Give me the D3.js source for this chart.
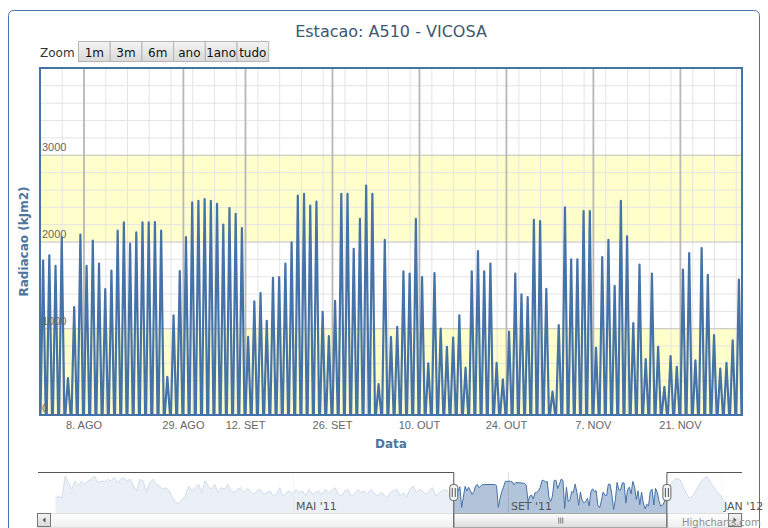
<!DOCTYPE html>
<html>
<head>
<meta charset="utf-8">
<script src="https://cdn.jsdelivr.net/npm/d3@7"></script>
<style>
  body { margin: 0; background: #fff; }
  svg { display: block; font-family: "DejaVu Sans", Verdana, sans-serif; }
</style>
</head>
<body>
<div id="chart"></div>
<script>
// days with data (ordinal axis: missing days are skipped)
const periods = [["2011-08-01", "2011-08-18"], ["2011-08-24", "2011-09-05"], ["2011-09-10", "2011-11-30"]];

// daily peak radiation (kJ/m2), one per day of `periods`
const peaks = [
  1780, 1840, 1720, 2050, 425, 1245, 2080, 1720, 2010, 1745,
  1450, 1665, 2125, 2220, 1975, 2105, 2220, 2220, 2225, 2125,
  440, 1150, 1660, 2050, 2450, 2470, 2490, 2470, 2435, 2195,
  2385, 2320, 2155, 900, 1310, 1405, 1085, 1580, 1590, 1745,
  1990, 2530, 2550, 2415, 2460, 1190, 910, 1315, 2550, 2550,
  1915, 2260, 2645, 2550, 355, 2020, 900, 1015, 1655, 1630,
  2260, 1590, 595, 1635, 995, 785, 893, 1150, 545, 1655,
  1890, 1655, 1745, 600, 410, 960, 1630, 1390, 1360, 2250,
  2235, 1455, 270, 1035, 2395, 1795, 1795, 2350, 2350, 775,
  1820, 2020, 1490, 2470, 2060, 1060, 1735, 645, 1630, 785,
  325, 680, 555, 1675, 1865, 630, 1925, 1615, 920, 535,
  600, 860, 1560
];

const tickDates = ["2011-08-08", "2011-08-29", "2011-09-12", "2011-09-26", "2011-10-10", "2011-10-24", "2011-11-07", "2011-11-21"];
const monthAbbr = ["JAN", "FEV", "MAR", "ABR", "MAI", "JUN", "JUL", "AGO", "SET", "OUT", "NOV", "DEZ"];
const yTicks = [0, 1000, 2000, 3000];
const bands = [[0, 1000], [2000, 3000]];
const rangeButtons = ["1m", "3m", "6m", "ano", "1ano", "tudo"];

// navigator series outside the selected period
const navBeforeRange = ["2010-12-16", "2011-07-31"];
const navBefore = [
  1200, 1280, 1200, 2890, 2370, 1850, 2500, 2110, 2500, 2240,
  2500, 2630, 2890, 2370, 2500, 2420, 2630, 2500, 2760, 2370,
  2630, 2760, 2500, 2630, 2110, 1720, 2630, 2500, 1590, 2370,
  2630, 2240, 2110, 1850, 1980, 1720, 1200, 810, 750, 1070,
  1330, 2110, 1720, 1980, 2240, 1590, 2500, 2110, 1850, 2240,
  1590, 1980, 1850, 2240, 1720, 1590, 1850, 1980, 1590, 1900,
  1720, 1460, 1720, 1850, 1460, 1590, 1720, 1330, 1460, 1980,
  1330, 1590, 1720, 1460, 1850, 1590, 1720, 1330, 1850, 1460,
  1590, 1720, 1460, 1850, 1590, 1720, 1980, 1460, 1330, 1720,
  1850, 1330, 1460, 1850, 1590, 1720, 1460, 1850, 1590, 1330,
  1590, 1460, 1200, 1590, 1720, 1850, 1330, 1590, 1200, 1850,
  2110, 1590, 1850, 1720, 1460, 1720, 1980, 1330, 1590, 1720,
  1850, 1590, 1720
];
const navAfterRange = ["2011-12-01", "2012-01-03"];
const navAfter = [1800, 2320, 2710, 2580, 1800, 1150, 1400, 2060, 2580, 2840, 2320, 1800, 1400, 880];
const navTicks = ["2011-05-01", "2011-09-01", "2012-01-01"];
const navDomain = ["2010-12-06", "2012-01-13"];

const W = 768, H = 528;
const plot = { left: 40, right: 742, top: 68, bottom: 415 };
const nav = { left: 38, right: 742, top: 472, bottom: 513 };
const blue = "#4572A7";

const parse = d3.utcParse("%Y-%m-%d");
const days = periods.flatMap(([a, b]) => d3.utcDay.range(parse(a), d3.utcDay.offset(parse(b), 1)));
const series = days.map((d, i) => ({ date: d, i, v: peaks[i] }));

const svg = d3.select("#chart").append("svg").attr("width", W).attr("height", H);
const defs = svg.append("defs");

function grad(id, stops) {
  const g = defs.append("linearGradient").attr("id", id).attr("x1", 0).attr("y1", 0).attr("x2", 0).attr("y2", 1);
  stops.forEach(([o, c]) => g.append("stop").attr("offset", o).attr("stop-color", c));
}
grad("btn", [[0, "#f4f4f4"], [1, "#d9d9d9"]]);
grad("track", [[0, "#ffffff"], [1, "#eeeeee"]]);
grad("thumb", [[0, "#ffffff"], [1, "#dcdcdc"]]);

// outer chart border
svg.append("rect").attr("x", 8.5).attr("y", 10.5).attr("width", 751).attr("height", 600)
  .attr("rx", 5).attr("fill", "#fff").attr("stroke", blue).attr("stroke-width", 1);

// title
svg.append("text").attr("x", 391).attr("y", 37).attr("text-anchor", "middle")
  .attr("font-size", 16).attr("fill", "#3E576F").text("Estacao: A510 - VICOSA");

// range selector
const rs = svg.append("g");
rs.append("text").attr("x", 40).attr("y", 57).attr("font-size", 12).attr("fill", "#333").text("Zoom");
const btn = rs.selectAll("g.btn").data(rangeButtons).join("g").attr("class", "btn")
  .attr("transform", (d, i) => `translate(${78.5 + i * 31.7},41.5)`);
btn.append("rect").attr("width", 31.7).attr("height", 20).attr("fill", "url(#btn)").attr("stroke", "#b5b5b5");
btn.append("text").attr("x", 15.8).attr("y", 15).attr("text-anchor", "middle").attr("font-size", 12)
  .attr("fill", "#111").text(d => d);

// scales
const x = d3.scaleLinear().domain([0, days.length]).range([plot.left, plot.right]);
const y = d3.scaleLinear().domain([0, 4000]).range([plot.bottom, plot.top]);
const pw = plot.right - plot.left, ph = plot.bottom - plot.top;

const g = svg.append("g");

// plot bands
g.selectAll("rect.band").data(bands).join("rect").attr("class", "band")
  .attr("x", plot.left).attr("width", pw)
  .attr("y", d => y(d[1])).attr("height", d => y(d[0]) - y(d[1]))
  .attr("fill", "#FFFFCC");

// minor grid
const minorY = d3.range(0, 4001, 200).filter(v => v % 1000 !== 0);
g.append("g").attr("transform", `translate(${plot.left},0)`)
  .call(d3.axisLeft(y).tickValues(minorY).tickSize(-pw).tickFormat(""))
  .call(a => a.select(".domain").remove())
  .call(a => a.selectAll("line").attr("stroke", "#e4e4e4"));
const minorX = d3.range(3.5, days.length, 3.5);
g.append("g").attr("transform", `translate(0,${plot.bottom})`)
  .call(d3.axisBottom(x).tickValues(minorX).tickSize(-ph).tickFormat(""))
  .call(a => a.select(".domain").remove())
  .call(a => a.selectAll("line").attr("stroke", "#e4e4e4"));

// major grid
g.append("g").attr("transform", `translate(${plot.left},0)`)
  .call(d3.axisLeft(y).tickValues(yTicks.concat([4000])).tickSize(-pw).tickFormat(""))
  .call(a => a.select(".domain").remove())
  .call(a => a.selectAll("line").attr("stroke", "#c0c0c0"));

const tickIdx = tickDates.map(t => days.findIndex(d => +d === +parse(t)));
const fmtDay = d => `${d.getUTCDate()}. ${monthAbbr[d.getUTCMonth()]}`;
const xAxis = g.append("g").attr("transform", `translate(0,${plot.bottom})`)
  .call(d3.axisBottom(x).tickValues(tickIdx).tickSize(-ph).tickPadding(6).tickFormat(i => fmtDay(days[i])))
  .call(a => a.select(".domain").remove())
  .call(a => a.selectAll("line").attr("stroke", "#b8b8b8").attr("stroke-width", 1.8));
xAxis.selectAll("text").attr("font-size", 11).attr("fill", "#666").attr("font-family", null);

// series: each day drawn as one spike rising from zero to its peak
const pts = series.flatMap(d => [[d.i + 0.08, 0], [d.i + 0.5, d.v], [d.i + 0.92, 0]]);
g.append("path").datum(pts)
  .attr("d", d3.line().x(p => x(p[0])).y(p => y(p[1])))
  .attr("fill", "none").attr("stroke", blue).attr("stroke-width", 2.2)
  .attr("stroke-linejoin", "round");

// y labels inside plot
const yAxis = g.append("g").attr("transform", `translate(${plot.left},0)`)
  .call(d3.axisRight(y).tickValues(yTicks).tickSize(0).tickPadding(2).tickFormat(d3.format("d")))
  .call(a => a.select(".domain").remove());
yAxis.selectAll("text").attr("dy", "-0.35em").attr("font-size", 11).attr("fill", "#666").attr("font-family", null);

// plot border
g.append("rect").attr("x", plot.left).attr("y", plot.top).attr("width", pw).attr("height", ph)
  .attr("fill", "none").attr("stroke", blue).attr("stroke-width", 2);

// axis titles
svg.append("text").attr("transform", `translate(28,${(plot.top + plot.bottom) / 2}) rotate(-90)`)
  .attr("text-anchor", "middle").attr("font-size", 12).attr("font-weight", "bold")
  .attr("fill", "#4d759e").text("Radiacao (kJm2)");
svg.append("text").attr("x", (plot.left + plot.right) / 2).attr("y", 448).attr("text-anchor", "middle")
  .attr("font-size", 12).attr("font-weight", "bold").attr("fill", "#4d759e").text("Data");

// navigator
const navX = d3.scaleUtc().domain(navDomain.map(parse)).range([nav.left, nav.right]);
const navY = d3.scaleLinear().domain([0, 3200]).range([nav.bottom, nav.top]);
const spread = (vals, range) => {
  const t = d3.scaleLinear().domain([0, vals.length - 1]).range(range.map(s => +parse(s)));
  return vals.map((v, i) => ({ date: new Date(t(i)), v }));
};
const noon = 12 * 3600 * 1000;
const navData = spread(navBefore, navBeforeRange)
  .concat(series.map(d => ({ date: new Date(+d.date + noon), v: d.v })))
  .concat(spread(navAfter, navAfterRange));

const selL = navX(days[0]), selR = navX(d3.utcDay.offset(days[days.length - 1], 1));
const ng = svg.append("g");
ng.append("g").attr("transform", `translate(0,${nav.bottom})`)
  .call(d3.axisBottom(navX).tickValues(navTicks.map(parse)).tickSize(-(nav.bottom - nav.top)).tickFormat(""))
  .call(a => a.select(".domain").remove())
  .call(a => a.selectAll("line").attr("stroke", "#dcdcdc"));
ng.append("path").datum(navData)
  .attr("d", d3.area().x(d => navX(d.date)).y0(nav.bottom).y1(d => navY(d.v)))
  .attr("fill", blue).attr("fill-opacity", 0.42);
ng.append("path").datum(navData)
  .attr("d", d3.line().x(d => navX(d.date)).y(d => navY(d.v)))
  .attr("fill", "none").attr("stroke", blue).attr("stroke-width", 1);
// white masks over unselected range
ng.append("rect").attr("x", nav.left).attr("y", nav.top).attr("width", selL - nav.left)
  .attr("height", nav.bottom - nav.top).attr("fill", "#fff").attr("fill-opacity", 0.75);
ng.append("rect").attr("x", selR).attr("y", nav.top).attr("width", nav.right - selR)
  .attr("height", nav.bottom - nav.top).attr("fill", "#fff").attr("fill-opacity", 0.75);
ng.selectAll("text.navlbl").data(navTicks).join("text").attr("class", "navlbl")
  .attr("x", d => navX(parse(d)) + 3).attr("y", 510).attr("font-size", 11).attr("fill", "#555")
  .text(d => { const t = parse(d); return `${monthAbbr[t.getUTCMonth()]} '${String(t.getUTCFullYear()).slice(2)}`; });

// scrollbar
const sb = { top: 513.5, h: 14 };
ng.append("rect").attr("x", nav.left).attr("y", sb.top).attr("width", nav.right - nav.left).attr("height", sb.h)
  .attr("fill", "url(#track)").attr("stroke", "#e0e0e0");
ng.append("rect").attr("x", selL).attr("y", sb.top).attr("width", selR - selL).attr("height", sb.h)
  .attr("fill", "url(#thumb)").attr("stroke", "#a8a8a8");
[-2, 0, 2].forEach(o => ng.append("line")
  .attr("x1", (selL + selR) / 2 + o + 0.5).attr("x2", (selL + selR) / 2 + o + 0.5)
  .attr("y1", sb.top + 4).attr("y2", sb.top + 10).attr("stroke", "#777"));
[[nav.left - 0.5, -1], [nav.right - 13.5, 1]].forEach(([bx, dir]) => {
  ng.append("rect").attr("x", bx).attr("y", sb.top).attr("width", 13).attr("height", 13)
    .attr("fill", "url(#btn)").attr("stroke", "#777");
  const cx = bx + 6.5, cy = sb.top + 6.5;
  ng.append("path").attr("d", `M${cx + 1.5 * dir},${cy} L${cx - 1.5 * dir},${cy - 2.5} L${cx - 1.5 * dir},${cy + 2.5}Z`)
    .attr("fill", "#555");
});

// navigator outline
ng.append("path")
  .attr("d", `M${nav.left},${nav.top + 0.5} H${selL} V${sb.top + sb.h} M${selR},${sb.top + sb.h} V${nav.top + 0.5} H${nav.right}`)
  .attr("fill", "none").attr("stroke", "#555").attr("stroke-width", 1);

// handles
[selL, selR].forEach(hx => {
  ng.append("rect").attr("x", hx - 4).attr("y", 484.5).attr("width", 8).attr("height", 16).attr("rx", 3)
    .attr("fill", "#f2f2f2").attr("stroke", "#666");
  [-1.5, 1.5].forEach(o => ng.append("line").attr("x1", hx + o).attr("x2", hx + o)
    .attr("y1", 488).attr("y2", 497).attr("stroke", "#555"));
});

// credits
svg.append("text").attr("x", 682).attr("y", 526).attr("font-size", 10).attr("fill", "#909090").text("Highcharts.com");
</script>
</body>
</html>
